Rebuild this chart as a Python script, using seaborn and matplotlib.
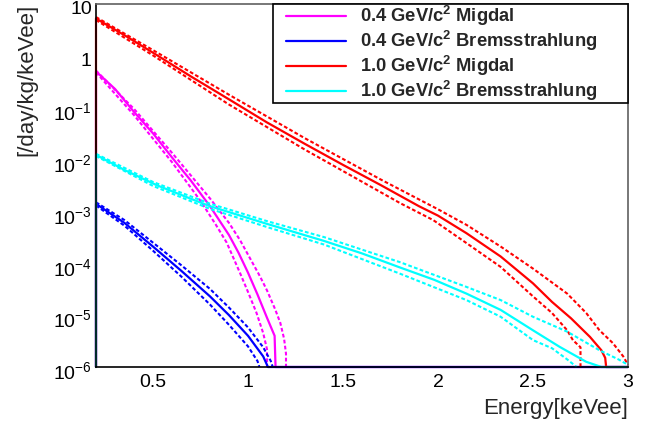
import numpy as np
import matplotlib
matplotlib.use('Agg')
import matplotlib.pyplot as plt
import matplotlib.ticker as mticker
import matplotlib.transforms as mtransforms
from matplotlib.legend_handler import HandlerLine2D
from matplotlib.lines import Line2D
import seaborn as sns

# ---- data (energy in keVee, rate in /day/kg/keVee) ----
# 0 means an empty bin: drawn on the lower edge like ROOT does
mig04_x = [0.2, 0.2, 0.3, 0.4, 0.5, 0.6, 0.7, 0.8, 0.9, 0.95, 1.0, 1.05, 1.1, 1.14, 1.145, 3.0]
mig04_y = [0, 0.50, 0.23, 0.083, 0.032, 0.011, 3.9e-3, 1.26e-3, 3.5e-4, 1.6e-4, 6.6e-5,
           2.5e-5, 8.9e-6, 4.0e-6, 0, 0]
mig04_hi_x = [0.2, 0.4, 0.6, 0.8, 0.9, 0.958, 1.01, 1.063, 1.1, 1.142, 1.17, 1.19, 1.2, 1.2]
mig04_hi_y = [0.52, 0.095, 0.0135, 1.78e-3, 6.0e-4, 2.8e-4, 1.26e-4, 5.6e-5, 3.0e-5,
              1.32e-5, 7.1e-6, 3.5e-6, 1.8e-6, 0]
mig04_lo_x = [0.2, 0.4, 0.6, 0.75, 0.83, 0.888, 0.958, 1.0, 1.045, 1.08, 1.1, 1.1]
mig04_lo_y = [0.48, 0.072, 8.9e-3, 1.6e-3, 5.6e-4, 2.5e-4, 6.5e-5, 2.8e-5, 1.1e-5,
              4.5e-6, 2.2e-6, 0]

brem04_x = [0.2, 0.2, 0.35, 0.5, 0.65, 0.8, 0.9, 1.0, 1.08, 1.105, 3.0]
brem04_y = [0, 1.4e-3, 6.0e-4, 2.1e-4, 7.1e-5, 2.3e-5, 1.0e-5, 4.0e-6, 1.6e-6, 0, 0]
brem04_hi_x = [0.2, 0.35, 0.5, 0.65, 0.8, 0.9, 1.0, 1.08, 1.12, 1.13, 1.13]
brem04_hi_y = [1.5e-3, 6.8e-4, 2.5e-4, 9.1e-5, 3.2e-5, 1.4e-5, 5.8e-6, 2.4e-6, 1.3e-6, 1.0e-6, 0]
brem04_lo_x = [0.2, 0.35, 0.5, 0.65, 0.8, 0.9, 1.0, 1.05, 1.06, 1.06]
brem04_lo_y = [1.3e-3, 5.3e-4, 1.75e-4, 5.5e-5, 1.6e-5, 6.5e-6, 2.5e-6, 1.3e-6, 1.0e-6, 0]

mig10_x = [0.2, 0.2, 0.35, 0.5, 0.7, 0.9, 1.1, 1.3, 1.5, 1.7, 1.9, 2.0, 2.15, 2.33, 2.5,
           2.6, 2.7, 2.8, 2.86, 2.88, 2.885, 3.0]
mig10_y = [0, 5.25, 2.5, 1.15, 0.40, 0.145, 0.052, 0.020, 7.9e-3, 3.2e-3, 1.26e-3, 8.3e-4,
           3.8e-4, 1.35e-4, 4.1e-5, 1.8e-5, 8.7e-6, 3.8e-6, 2.1e-6, 1.5e-6, 0, 0]
mig10_hi_x = [0.2, 0.5, 0.9, 1.3, 1.7, 2.0, 2.15, 2.33, 2.5, 2.68, 2.78, 2.85, 2.92, 2.975, 3.0]
mig10_hi_y = [5.6, 1.29, 0.178, 0.0257, 4.1e-3, 1.1e-3, 5.5e-4, 2.1e-4, 7.9e-5, 2.6e-5,
              1.1e-5, 5.1e-6, 2.9e-6, 1.6e-6, 1.1e-6]
mig10_lo_x = [0.2, 0.5, 0.9, 1.3, 1.8, 1.975, 2.15, 2.33, 2.5, 2.6, 2.68, 2.71, 2.75, 2.75]
mig10_lo_y = [4.9, 1.02, 0.115, 0.0155, 1.45e-3, 6.8e-4, 2.45e-4, 8.5e-5, 2.3e-5, 1.1e-5,
              5.1e-6, 3.3e-6, 2.4e-6, 0]

brem10_x = [0.2, 0.2, 0.35, 0.52, 0.7, 0.8, 1.1, 1.4, 1.6, 1.8, 1.98, 2.15, 2.33, 2.5,
            2.64, 2.78, 2.86, 3.0]
brem10_y = [0, 0.0123, 6.3e-3, 3.2e-3, 1.75e-3, 1.26e-3, 5.75e-4, 2.7e-4, 1.55e-4, 8.3e-5,
            4.8e-5, 2.6e-5, 1.26e-5, 5.1e-6, 2.45e-6, 1.26e-6, 0, 0]
brem10_hi_x = [0.2, 0.5, 0.8, 1.1, 1.4, 1.8, 2.15, 2.33, 2.5, 2.68, 2.85, 2.95, 3.0]
brem10_hi_y = [0.0129, 3.7e-3, 1.41e-3, 6.5e-4, 3.2e-4, 1.05e-4, 3.5e-5, 1.95e-5, 9.3e-6,
               4.8e-6, 2.1e-6, 1.4e-6, 1.1e-6]
brem10_lo_x = [0.2, 0.5, 0.8, 1.1, 1.4, 1.8, 2.15, 2.33, 2.5, 2.6, 2.68, 2.73, 2.73]
brem10_lo_y = [0.0117, 3.1e-3, 1.12e-3, 5.0e-4, 2.3e-4, 6.3e-5, 1.95e-5, 9.3e-6, 3.3e-6,
               2.3e-6, 1.4e-6, 1.0e-6, 0]

labels = [r'0.4 GeV/c$^{\mathbf{2}}$ Migdal', r'0.4 GeV/c$^{\mathbf{2}}$ Bremsstrahlung',
          r'1.0 GeV/c$^{\mathbf{2}}$ Migdal', r'1.0 GeV/c$^{\mathbf{2}}$ Bremsstrahlung']
colors = ['#ff00ff', '#0000ff', '#ff0000', '#00ffff']

x_ticks = [0.5, 1.0, 1.5, 2.0, 2.5, 3.0]
x_ticklabels = ['0.5', '1', '1.5', '2', '2.5', '3']
y_ticks = [1e-6, 1e-5, 1e-4, 1e-3, 1e-2, 1e-1, 1, 10]
y_ticklabels = ['$10^{-6}$', '$10^{-5}$', '$10^{-4}$', '$10^{-3}$', '$10^{-2}$', '$10^{-1}$', '1', '10']

series = [
    (mig04_x, mig04_y, mig04_hi_x, mig04_hi_y, mig04_lo_x, mig04_lo_y),
    (brem04_x, brem04_y, brem04_hi_x, brem04_hi_y, brem04_lo_x, brem04_lo_y),
    (mig10_x, mig10_y, mig10_hi_x, mig10_hi_y, mig10_lo_x, mig10_lo_y),
    (brem10_x, brem10_y, brem10_hi_x, brem10_hi_y, brem10_lo_x, brem10_lo_y),
]

YMIN, YMAX = 1e-6, 10

sns.set_style('white')
plt.rcParams['font.family'] = ['Liberation Sans', 'DejaVu Sans']
plt.rcParams['mathtext.fontset'] = 'custom'
plt.rcParams['mathtext.rm'] = 'Liberation Sans'
plt.rcParams['mathtext.it'] = 'Liberation Sans:italic'
plt.rcParams['mathtext.bf'] = 'Liberation Sans:bold'

fig = plt.figure(figsize=(6.65, 4.23), dpi=100)
ax = fig.add_axes([96 / 665, 56 / 423, 532 / 665, 363 / 423])

dots = (0, (1.8, 1.1))
handles = []
for (sx, sy, hx, hy, lx, ly), col, lab in zip(series, colors, labels):
    for bx, by in [(hx, hy), (lx, ly)]:
        sns.lineplot(x=bx, y=np.maximum(by, YMIN), ax=ax, color=col, lw=1.5,
                     linestyle=dots, estimator=None, sort=False, clip_on=False)
    sns.lineplot(x=sx, y=np.maximum(sy, YMIN), ax=ax, color=col, lw=1.6,
                 estimator=None, sort=False, clip_on=False)
    handles.append(ax.lines[-1])

ax.set_yscale('log')
ax.set_xlim(0.2, 3.0)
ax.set_ylim(YMIN, YMAX)

ax.xaxis.set_major_locator(mticker.FixedLocator(x_ticks))
ax.xaxis.set_major_formatter(mticker.FixedFormatter(x_ticklabels))
ax.xaxis.set_minor_locator(mticker.MultipleLocator(0.1))
ax.yaxis.set_major_locator(mticker.FixedLocator(y_ticks))
ax.yaxis.set_major_formatter(mticker.FixedFormatter(y_ticklabels))
ax.yaxis.set_minor_locator(mticker.LogLocator(base=10, subs=np.arange(2, 10), numticks=20))
ax.yaxis.set_minor_formatter(mticker.NullFormatter())

ax.tick_params(axis='both', which='both', direction='in', labelsize=14, colors='black')
ax.tick_params(axis='x', which='major', length=7.2, width=1, pad=5)
ax.tick_params(axis='x', which='minor', length=3.6, width=1)
ax.tick_params(axis='y', which='major', length=11.5, width=1, pad=3)
ax.tick_params(axis='y', which='minor', length=5.8, width=1)

# ROOT puts the y labels a little below their ticks
shift = mtransforms.ScaledTranslation(0, -0.035, fig.dpi_scale_trans)
for lbl in ax.get_yticklabels():
    lbl.set_transform(lbl.get_transform() + shift)

for s in ['left', 'bottom']:
    ax.spines[s].set_color('black')
    ax.spines[s].set_linewidth(1.2)
for s in ['top', 'right']:
    ax.spines[s].set_color('#606060')
    ax.spines[s].set_linewidth(1.2)

ax.set_xlabel('Energy[keVee]', fontsize=16, loc='right')
ax.xaxis.set_label_coords(1.0, -0.085)
ax.set_ylabel('[/day/kg/keVee]', fontsize=16, loc='top')
ax.yaxis.set_label_coords(-0.11, 1.0)

leg = ax.legend(handles=handles, labels=labels, loc='upper right',
                bbox_to_anchor=(0.333, 0.0, 0.667, 1.0), mode='expand',
                borderaxespad=0, fancybox=False, framealpha=1, edgecolor='black',
                prop={'family': 'Liberation Sans', 'weight': 'bold', 'size': 13.2},
                handlelength=3.95, handletextpad=0.75, labelspacing=0.04, borderpad=0.02,
                handler_map={Line2D: HandlerLine2D(xpad=0.68)})
leg.get_frame().set_linewidth(1.2)

fig.savefig('out.png', dpi=100)
